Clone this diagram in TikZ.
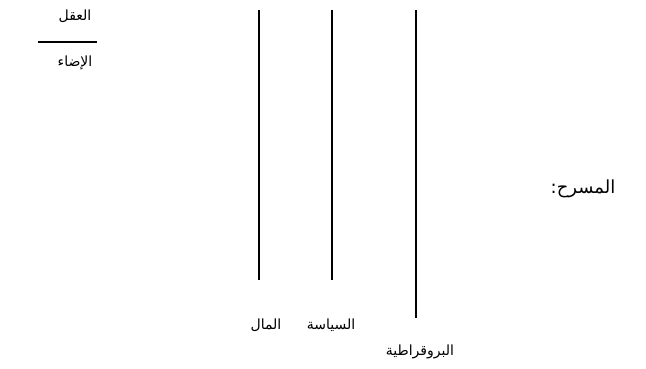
\documentclass[tikz,border=0pt]{standalone}
\usepackage{fontspec}
\usepackage{tikz}
\usetikzlibrary{positioning}
\TeXXeTstate=1
\newfontfamily\arabicfont[Script=Arabic]{DejaVu Sans}
\tikzset{
  lbl/.style={font=\arabicfont\fontsize{14}{16}\selectfont, inner sep=1pt},
  bar/.style={line width=1.2pt}}

\begin{document}
\begin{tikzpicture}[x=1pt,y=-1pt]
	\useasboundingbox (0,0) rectangle (646,369);
	\coordinate (m1) at (259,10);
	\coordinate (m2) at (259,280);
	\coordinate (s1) at (332,10);
	\coordinate (s2) at (332,280);
	\coordinate (b1) at (416,10);
	\coordinate (b2) at (416,318);
	\coordinate (f1) at (38,42);
	\coordinate (f2) at (97,42);
\draw [bar] (m1) -- (m2);\draw [bar] (s1) -- (s2);\draw [bar] (b1) -- (b2);
\draw [bar] (f1) -- (f2);
% labels under the bars
\node [lbl] (mal) at (266,325) {\beginR المال\endR};
\node [lbl] (siy) at (331,325) {\beginR السياسة\endR};
\node [lbl] (bir) at (420,352) {\beginR البروقراطية\endR};
\node [lbl] (aql) at (75,16) {\beginR العقل\endR};
\node [lbl] (ida) at (75,63) {\beginR الإضاء\endR};
\node [lbl, font=\arabicfont\fontsize{18}{21}\selectfont] (mas) at (583,189) {\beginR المسرح:\endR};
	\end{tikzpicture}
\end{document}
